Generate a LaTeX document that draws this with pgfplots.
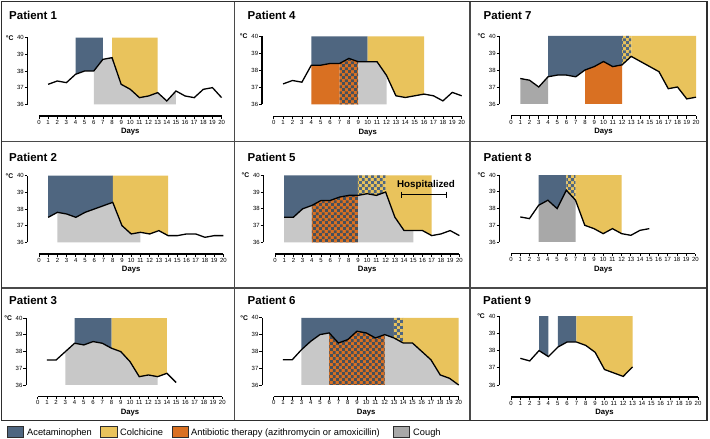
\documentclass[border=0pt]{standalone}
\usepackage{fontspec}
\setmainfont{Liberation Sans}
\usepackage{pgfplots}
\pgfplotsset{compat=1.18}
\usetikzlibrary{patterns}

\pgfdeclarepatternformonly{bigchecker}{\pgfpointorigin}{\pgfpoint{5.8pt}{5.8pt}}{\pgfpoint{5.8pt}{5.8pt}}{%
  \pgfpathrectangle{\pgfpointorigin}{\pgfpoint{2.95pt}{2.95pt}}%
  \pgfpathrectangle{\pgfpoint{2.9pt}{2.9pt}}{\pgfpoint{2.95pt}{2.95pt}}%
  \pgfusepath{fill}}

\definecolor{acet}{HTML}{4F6680}
\definecolor{colch}{HTML}{E9C35C}
\definecolor{anti}{HTML}{D97022}
\definecolor{coughL}{HTML}{C8C8C8}
\definecolor{coughD}{HTML}{A8A8A8}
\definecolor{chkdark}{HTML}{47505A}
\definecolor{framec}{HTML}{2E2E2E}
\definecolor{innerc}{HTML}{4A4A4A}

\newcommand{\reg}[2]{\addplot[fill=#1, draw=none, forget plot] coordinates {#2} --cycle;}
\newcommand{\chk}[3]{\addplot[fill=#1, draw=none, forget plot] coordinates {#3} --cycle;
  \addplot[pattern=bigchecker, pattern color=#2, draw=none, forget plot] coordinates {#3} --cycle;}
\newcommand{\temp}[1]{\addplot[black, line width=1.3pt, mark=none, forget plot] coordinates {#1};}
\newcommand{\axdeco}{%
  \draw[black, line width=1.1pt] (axis cs:-1.25,36) -- (axis cs:-1.25,40);
  \draw[black, line width=1.1pt] (axis cs:0,35.3) -- (axis cs:20,35.3);
  \node[font=\bfseries\fontsize{6.8}{7}\selectfont] at (axis cs:-3.2,40) {°C};
  \node[font=\bfseries\fontsize{7.7}{8}\selectfont, yshift=-16pt] at (axis cs:10,35.3) {Days};}

\pgfplotsset{
  /pgf/number format/assume math mode=true,
  panel/.style n args={4}{
    x=#3pt, y=#4pt,
    anchor=south west,
    at={(#1pt-1.25*#3pt, 439pt-#2pt-0.7*#4pt)},
    xmin=-1.25, xmax=20.3, ymin=35.3, ymax=40.2,
    axis x line*=bottom, axis y line*=left,
    axis line style={draw=none},
    tick align=outside,
    major tick length=2.8pt,
    tick style={black, line width=0.8pt},
    xtick={0,...,20}, ytick={36,...,40},
    tick label style={font=\fontsize{6}{6.5}\selectfont},
    xticklabel style={inner sep=1pt},
    yticklabel style={inner sep=0.8pt},
    clip=false,
  }
}

\begin{document}
\begin{tikzpicture}
\useasboundingbox (0,0) rectangle (710pt,439pt);
\fill[white] (0,0) rectangle (710pt,439pt);

% ---------- Patient 1
\begin{axis}[panel={39}{104.3}{9.13}{16.65}]
\reg{acet}{(4,40) (4,37.8) (5,38.0) (6,38.0) (7,38.7) (7,40)}
\reg{colch}{(8,40) (8,38.8) (9,37.2) (10,36.9) (11,36.4) (12,36.5) (13,36.7) (13,40)}
\reg{coughL}{(6,36) (6,38.0) (7,38.7) (8,38.8) (9,37.2) (10,36.9) (11,36.4) (12,36.5) (13,36.7) (14,36.2) (15,36.8) (15,36)}
\temp{(1,37.2) (2,37.4) (3,37.3) (4,37.8) (5,38.0) (6,38.0) (7,38.7) (8,38.8) (9,37.2) (10,36.9) (11,36.4) (12,36.5) (13,36.7) (14,36.2) (15,36.8) (16,36.5) (17,36.4) (18,36.9) (19,37.0) (20,36.4)}
\axdeco
\end{axis}

% ---------- Patient 4
\begin{axis}[panel={273.7}{104.3}{9.4}{17.0}]
\reg{acet}{(4,40) (4,38.3) (5,38.3) (6,38.4) (7,38.4) (8,38.7) (9,38.5) (10,38.5) (10,40)}
\reg{colch}{(10,40) (10,38.5) (11,38.5) (12,37.7) (13,36.5) (14,36.4) (15,36.5) (16,36.6) (16,40)}
\reg{anti}{(4,36) (4,38.3) (5,38.3) (6,38.4) (7,38.4) (7,36)}
\chk{anti}{chkdark}{(7,36) (7,38.4) (8,38.7) (9,38.5) (9,36)}
\reg{coughL}{(9,36) (9,38.5) (10,38.5) (11,38.5) (12,37.7) (12,36)}
\temp{(1,37.2) (2,37.4) (3,37.3) (4,38.3) (5,38.3) (6,38.4) (7,38.4) (8,38.7) (9,38.5) (10,38.5) (11,38.5) (12,37.7) (13,36.5) (14,36.4) (15,36.5) (16,36.6) (17,36.5) (18,36.2) (19,36.7) (20,36.5)}
\axdeco
\end{axis}

% ---------- Patient 7
\begin{axis}[panel={511}{104}{9.25}{17}]
\reg{coughD}{(1,36) (1,37.5) (2,37.4) (3,37.0) (4,37.6) (4,36)}
\reg{acet}{(4,40) (4,37.6) (5,37.7) (6,37.7) (7,37.6) (8,38.0) (9,38.2) (10,38.5) (11,38.2) (12,38.3) (12,40)}
\chk{colch}{acet}{(12,40) (12,38.3) (13,38.8) (13,40)}
\reg{colch}{(13,40) (13,38.8) (14,38.5) (15,38.2) (16,37.9) (17,36.9) (18,37.0) (19,36.3) (20,36.4) (20,40)}
\reg{anti}{(8,36) (8,38.0) (9,38.2) (10,38.5) (11,38.2) (12,38.3) (12,36)}
\temp{(1,37.5) (2,37.4) (3,37.0) (4,37.6) (5,37.7) (6,37.7) (7,37.6) (8,38.0) (9,38.2) (10,38.5) (11,38.2) (12,38.3) (13,38.8) (14,38.5) (15,38.2) (16,37.9) (17,36.9) (18,37.0) (19,36.3) (20,36.4)}
\axdeco
\end{axis}

% ---------- Patient 2
\begin{axis}[panel={39}{242.3}{9.22}{16.65}]
\reg{acet}{(1,40) (1,37.5) (2,37.8) (3,37.7) (4,37.5) (5,37.8) (6,38.0) (7,38.2) (8,38.4) (8,40)}
\reg{colch}{(8,40) (8,38.4) (9,37.0) (10,36.5) (11,36.6) (12,36.5) (13,36.7) (14,36.4) (14,40)}
\reg{coughL}{(2,36) (2,37.8) (3,37.7) (4,37.5) (5,37.8) (6,38.0) (7,38.2) (8,38.4) (9,37.0) (10,36.5) (11,36.6) (11,36)}
\temp{(1,37.5) (2,37.8) (3,37.7) (4,37.5) (5,37.8) (6,38.0) (7,38.2) (8,38.4) (9,37.0) (10,36.5) (11,36.6) (12,36.5) (13,36.7) (14,36.4) (15,36.4) (16,36.5) (17,36.5) (18,36.3) (19,36.4) (20,36.4)}
\axdeco
\end{axis}

% ---------- Patient 5
\begin{axis}[panel={275}{242.3}{9.22}{16.75}]
\reg{acet}{(1,40) (1,37.5) (2,37.5) (3,38.0) (4,38.2) (5,38.5) (6,38.5) (7,38.7) (8,38.8) (9,38.8) (9,40)}
\chk{colch}{acet}{(9,40) (9,38.8) (10,38.9) (11,38.8) (12,39.0) (12,40)}
\reg{colch}{(12,40) (12,39.0) (13,37.5) (14,36.7) (15,36.7) (16,36.7) (17,36.4) (17,40)}
\reg{coughL}{(1,36) (1,37.5) (2,37.5) (3,38.0) (4,38.2) (5,38.5) (6,38.5) (7,38.7) (8,38.8) (9,38.8) (10,38.9) (11,38.8) (12,39.0) (13,37.5) (14,36.7) (15,36.7) (15,36)}
\chk{anti}{chkdark}{(4,36) (4,38.2) (5,38.5) (6,38.5) (7,38.7) (8,38.8) (9,38.8) (9,36)}
\temp{(1,37.5) (2,37.5) (3,38.0) (4,38.2) (5,38.5) (6,38.5) (7,38.7) (8,38.8) (9,38.8) (10,38.9) (11,38.8) (12,39.0) (13,37.5) (14,36.7) (15,36.7) (16,36.7) (17,36.4) (18,36.5) (19,36.7) (20,36.4)}
\addplot[black, line width=1pt, mark=|, mark size=3pt, mark options={line width=1pt}, forget plot] coordinates {(13.75,38.85) (18.55,38.85)};
\node[font=\bfseries\fontsize{9.8}{10}\selectfont, anchor=base] at (axis cs:16.38,39.3) {Hospitalized};
\axdeco
\end{axis}

% ---------- Patient 8
\begin{axis}[panel={511}{242}{9.22}{16.7}]
\reg{acet}{(3,40) (3,38.2) (4,38.5) (5,38.0) (6,39.1) (6,40)}
\chk{colch}{acet}{(6,40) (6,39.1) (7,38.5) (7,40)}
\reg{colch}{(7,40) (7,38.5) (8,37.0) (9,36.8) (10,36.5) (11,36.8) (12,36.5) (12,40)}
\reg{coughD}{(3,36) (3,38.2) (4,38.5) (5,38.0) (6,39.1) (7,38.5) (7,36)}
\temp{(1,37.5) (2,37.4) (3,38.2) (4,38.5) (5,38.0) (6,39.1) (7,38.5) (8,37.0) (9,36.8) (10,36.5) (11,36.8) (12,36.5) (13,36.4) (14,36.7) (15,36.8)}
\axdeco
\end{axis}

% ---------- Patient 3
\begin{axis}[panel={37.7}{385}{9.23}{16.7}]
\reg{acet}{(4,40) (4,38.5) (5,38.4) (6,38.6) (7,38.5) (8,38.2) (8,40)}
\reg{colch}{(8,40) (8,38.2) (9,38.0) (10,37.4) (11,36.5) (12,36.6) (13,36.5) (14,36.7) (14,40)}
\reg{coughL}{(3,36) (3,38.0) (4,38.5) (5,38.4) (6,38.6) (7,38.5) (8,38.2) (9,38.0) (10,37.4) (11,36.5) (12,36.6) (13,36.5) (13,36)}
\temp{(1,37.5) (2,37.5) (3,38.0) (4,38.5) (5,38.4) (6,38.6) (7,38.5) (8,38.2) (9,38.0) (10,37.4) (11,36.5) (12,36.6) (13,36.5) (14,36.7) (15,36.15)}
\axdeco
\end{axis}

% ---------- Patient 6
\begin{axis}[panel={273.7}{385}{9.25}{16.8}]
\reg{acet}{(3,40) (3,38.1) (4,38.6) (5,39.0) (6,39.1) (7,38.5) (8,38.7) (9,39.2) (10,39.1) (11,38.8) (12,39.0) (13,38.8) (13,40)}
\chk{colch}{acet}{(13,40) (13,38.8) (14,38.5) (14,40)}
\reg{colch}{(14,40) (14,38.5) (15,38.5) (16,38.0) (17,37.5) (18,36.6) (19,36.4) (20,36.0) (20,40)}
\reg{coughL}{(3,36) (3,38.1) (4,38.6) (5,39.0) (6,39.1) (7,38.5) (8,38.7) (9,39.2) (10,39.1) (11,38.8) (12,39.0) (13,38.8) (14,38.5) (15,38.5) (16,38.0) (17,37.5) (18,36.6) (19,36.4) (20,36.0) (20,36)}
\chk{anti}{chkdark}{(6,36) (6,39.1) (7,38.5) (8,38.7) (9,39.2) (10,39.1) (11,38.8) (12,39.0) (12,36)}
\temp{(1,37.5) (2,37.5) (3,38.1) (4,38.6) (5,39.0) (6,39.1) (7,38.5) (8,38.7) (9,39.2) (10,39.1) (11,38.8) (12,39.0) (13,38.8) (14,38.5) (15,38.5) (16,38.0) (17,37.5) (18,36.6) (19,36.4) (20,36.0)}
\axdeco
\end{axis}

% ---------- Patient 9
\begin{axis}[panel={511}{385}{9.35}{17.2}]
\reg{acet}{(3,40) (3,38.0) (4,37.65) (4,40)}
\reg{acet}{(5,40) (5,38.2) (6,38.5) (7,38.5) (7,40)}
\reg{colch}{(7,40) (7,38.5) (8,38.3) (9,37.9) (10,36.9) (11,36.7) (12,36.5) (13,37.05) (13,40)}
\temp{(1,37.55) (2,37.4) (3,38.0) (4,37.65) (5,38.2) (6,38.5) (7,38.5) (8,38.3) (9,37.9) (10,36.9) (11,36.7) (12,36.5) (13,37.05)}
\axdeco
\end{axis}

\begin{scope}[shift={(0,439pt)}, x=1pt, y=-1pt]
  % frame
  \draw[innerc, line width=1.3pt] (1.5,141.5) -- (707,141.5);
  \draw[innerc, line width=1.3pt] (1.5,288) -- (707,288);
  \draw[innerc, line width=1.3pt] (234.5,1.5) -- (234.5,420.5);
  \draw[innerc, line width=1.3pt] (470,1.5) -- (470,420.5);
  \draw[framec, line width=1.8pt] (1.5,1.5) rectangle (707,420.5);
  % titles
  \begin{scope}[every node/.style={anchor=base west, inner sep=0pt, font=\bfseries\fontsize{11.5}{12}\selectfont}]
    \node at (9,20) {Patient 1};
    \node at (247.5,20) {Patient 4};
    \node at (483.5,20) {Patient 7};
    \node at (9,161.3) {Patient 2};
    \node at (247.5,161.3) {Patient 5};
    \node at (483.5,161.3) {Patient 8};
    \node at (9,304.3) {Patient 3};
    \node at (247.5,304.3) {Patient 6};
    \node at (483,304.3) {Patient 9};
  \end{scope}
  % legend
  \filldraw[fill=acet, draw=framec, line width=0.6pt] (7,426) rectangle (23,437);
  \filldraw[fill=colch, draw=framec, line width=0.6pt] (100,426) rectangle (117,437);
  \filldraw[fill=anti, draw=framec, line width=0.6pt] (172,426) rectangle (188,437);
  \filldraw[fill=coughD, draw=framec, line width=0.6pt] (393,426) rectangle (409,437);
  \begin{scope}[every node/.style={anchor=base west, inner sep=0pt, font=\fontsize{9.3}{10}\selectfont}]
    \node at (27,436) {Acetaminophen};
    \node at (120,436) {Colchicine};
    \node at (191,436) {Antibiotic therapy (azithromycin or amoxicillin)};
    \node at (413,436) {Cough};
  \end{scope}
\end{scope}
\end{tikzpicture}
\end{document}
